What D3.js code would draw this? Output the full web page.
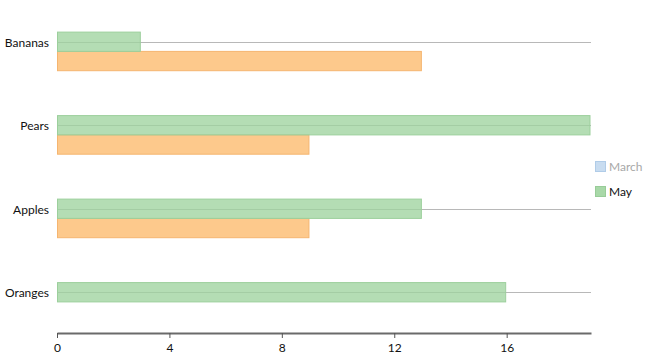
<!DOCTYPE html>
<html><head><meta charset="utf-8">
<script src="https://cdn.jsdelivr.net/npm/d3@7"></script>
<style>body{margin:0;background:#fff;}text{font-family:Lato,"Open Sans",sans-serif;}</style>
</head><body>
<svg id="c" width="654" height="364"></svg>
<script>
const categories = ["Bananas", "Pears", "Apples", "Oranges"];
const mayValues = [3, 19, 13, 16];
const otherValues = [13, 9, 9, 0];
const xTicks = [0, 4, 8, 12, 16];
const legendItems = ["March", "May"];

const svg = d3.select("#c");
const x = d3.scaleLinear().domain([0, 19]).range([57, 591]);
const y = d3.scaleBand().domain(categories).range([0, 334]);
const barH = 19.3;
const ff = "Lato,'Open Sans',sans-serif";

// gridlines
svg.append("g").selectAll("line").data(categories).join("line")
  .attr("x1", x(0)).attr("x2", x(19))
  .attr("y1", d => Math.round(y(d) + y.bandwidth() / 2) + 0.5)
  .attr("y2", d => Math.round(y(d) + y.bandwidth() / 2) + 0.5)
  .attr("stroke", "#b8b8b8").attr("stroke-width", 1);

// orange bars
svg.append("g").selectAll("rect").data(categories).join("rect")
  .filter((d, i) => otherValues[i] > 0)
  .attr("x", x(0) + 0.5)
  .attr("y", d => y(d) + y.bandwidth() / 2 + barH / 2)
  .attr("width", (d) => x(otherValues[categories.indexOf(d)]) - x(0) - 1.5)
  .attr("height", barH)
  .attr("fill", "#fdc98c").attr("stroke", "#f5b570").attr("stroke-width", 1);

// green bars
svg.append("g").selectAll("rect").data(categories).join("rect")
  .attr("x", x(0) + 0.5)
  .attr("y", d => y(d) + y.bandwidth() / 2 - barH / 2)
  .attr("width", (d, i) => x(mayValues[i]) - x(0) - 1.5)
  .attr("height", barH)
  .attr("fill", "#9fd49f").attr("fill-opacity", 0.78)
  .attr("stroke", "#9ccf9c").attr("stroke-width", 1);

// category labels
svg.append("g").selectAll("text").data(categories).join("text")
  .attr("x", 49).attr("y", d => y(d) + y.bandwidth() / 2 + 1)
  .attr("dy", "0.35em").attr("text-anchor", "end")
  .attr("font-size", 12).attr("fill", "#111").text(d => d);

// x axis
const ax = svg.append("g").attr("transform", "translate(0,333)")
  .call(d3.axisBottom(x).tickValues(xTicks).tickSize(5).tickSizeOuter(0));
ax.select(".domain").attr("stroke", "#6a6a6a").attr("stroke-width", 2);
ax.selectAll(".tick line").attr("stroke", "#555");
ax.selectAll(".tick text").attr("font-size", 12).attr("fill", "#111")
  .attr("font-family", ff).attr("dy", "0.9em");

// legend
const lg = svg.append("g");
const swFill = ["#c8dcf0", "#a8d8a8"];
const swStroke = ["#b0cce8", "#98cc98"];
const txtCol = ["#a8a8a8", "#111"];
legendItems.forEach((t, i) => {
  const yy = 161 + i * 25;
  lg.append("rect").attr("x", 595.5).attr("y", yy + 0.5).attr("width", 10).attr("height", 10)
    .attr("fill", swFill[i]).attr("stroke", swStroke[i]);
  lg.append("text").attr("x", 609).attr("y", yy + 6).attr("dy", "0.35em")
    .attr("font-size", 12).attr("fill", txtCol[i]).text(t);
});
</script>
</body></html>
